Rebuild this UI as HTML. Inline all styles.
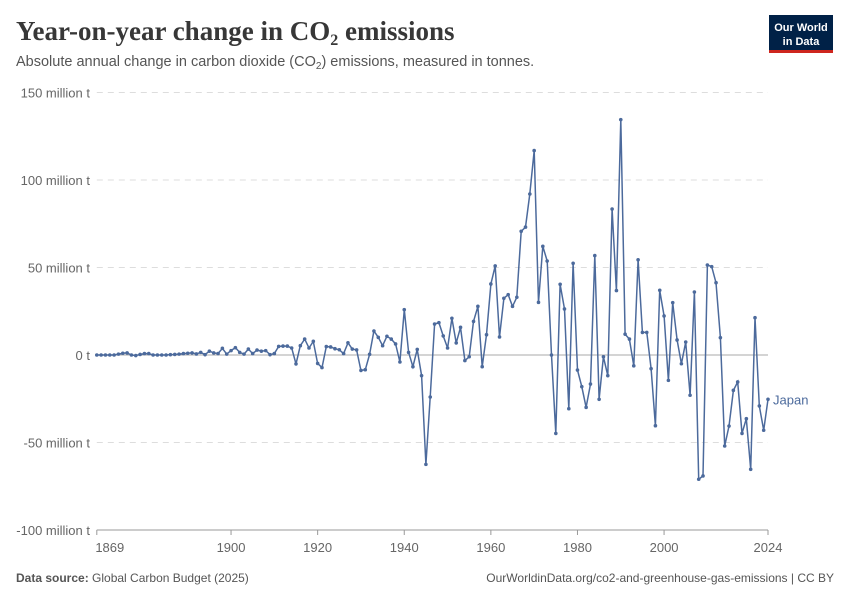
<!DOCTYPE html>
<html><head><meta charset="utf-8"><style>
body{margin:0;background:#fff;width:850px;height:600px;overflow:hidden;font-family:"Liberation Sans",sans-serif;}
</style></head><body>
<svg width="850" height="600" xmlns="http://www.w3.org/2000/svg">
<text x="16" y="40" font-family="Liberation Serif" font-weight="bold" font-size="27" fill="#373737">Year-on-year change in CO<tspan font-size="16" dy="5">2</tspan><tspan dy="-5"> emissions</tspan></text>
<text x="16" y="66" font-size="14.5" fill="#555">Absolute annual change in carbon dioxide (CO<tspan font-size="10" dy="3">2</tspan><tspan dy="-3">) emissions, measured in tonnes.</tspan></text>
<g>
<rect x="769" y="15" width="64" height="37" fill="#002147"/>
<rect x="769" y="50" width="64" height="3" fill="#ce261e"/>
<text x="801" y="31" font-size="11" font-weight="bold" fill="#fff" text-anchor="middle">Our World</text>
<text x="801" y="45" font-size="11" font-weight="bold" fill="#fff" text-anchor="middle">in Data</text>
</g>
<g id="grid"></g><g id="xaxis"></g><g id="series"></g>
<text x="16" y="582" font-size="12" fill="#555"><tspan font-weight="bold">Data source:</tspan> Global Carbon Budget (2025)</text>
<text x="834" y="582" font-size="12" fill="#555" text-anchor="end">OurWorldinData.org/co2-and-greenhouse-gas-emissions | CC BY</text>
</svg>
<script>
const startYear=1869;
const values=[0,0,0,0,0,0.5,1,1.2,0,-0.3,0.3,0.8,
0.8,0,0,0,0,0.2,0.3,0.5,0.8,1,
1.2,0.6,1.5,0.2,2.2,1.2,0.8,3.8,0.5,2.5,
4.2,1.5,0.5,3.4,0.8,2.8,2.2,2.5,0.2,0.8,
4.9,5.1,5.1,4,-5.1,5.3,9.1,4,7.8,-4.8,
-7.2,4.8,4.6,3.6,3,0.8,7,3.4,2.9,-8.8,
-8.4,0.4,13.7,10.1,5.3,10.7,9.1,6.3,-4,25.9,
1.5,-6.7,3.2,-11.8,-62.5,-24,17.7,18.5,10.9,4,
21,6.9,15.8,-3.2,-1,19.2,27.8,-6.7,11.6,40.6,
50.9,10.3,32.4,34.5,27.8,33,70.7,73.1,92,116.8,
30.1,62.1,53.7,0,-44.8,40.4,26.3,-30.7,52.4,-8.6,
-18.1,-29.9,-16.6,56.8,-25.3,-1,-11.8,83.4,36.8,134.5,
11.9,9.1,-6.2,54.4,12.9,12.9,-7.8,-40.4,37,22.3,
-14.5,29.9,8.6,-5,7.4,-23,36,-71,-69.1,51.4,
50.5,41.3,9.9,-52,-40.6,-20.2,-15.4,-44.8,-36.4,-65.3,
21.3,-29.1,-43,-25.3];
const yTicks=[150,100,50,0,-50,-100];
const xTicks=[1869,1900,1920,1940,1960,1980,2000,2024];
const NS="http://www.w3.org/2000/svg";
const X0=96.8,X1=768,Y0=355,K=1.75;
const endYear=startYear+values.length-1;
function xs(yr){return X0+(yr-startYear)*(X1-X0)/(2024-startYear);}
function ys(v){return Y0-v*K;}
function mk(tag,attrs,parent){const e=document.createElementNS(NS,tag);for(const k in attrs)e.setAttribute(k,attrs[k]);parent.appendChild(e);return e;}
const grid=document.getElementById('grid');
yTicks.forEach(t=>{
 const l=mk('line',{x1:X0,x2:X1,y1:ys(t),y2:ys(t),stroke:t===0?'#aaa':'#ddd','stroke-width':1,'stroke-dasharray':t===0?'':'6,5'},grid);
 
 
 const tx=mk('text',{x:90,y:ys(t)+5,'text-anchor':'end','font-size':13,fill:'#666'},grid);
 
 
 tx.textContent=t===0?'0 t':t+' million t';
});
const xa=document.getElementById('xaxis');
const ax=mk('line',{x1:X0,x2:X1,y1:ys(-100),y2:ys(-100),stroke:'#999'},xa);


xTicks.forEach(t=>{
 const tk=mk('line',{x1:xs(t),x2:xs(t),y1:ys(-100),y2:ys(-100)+5,stroke:'#999'},xa);
 
 
 const tx=mk('text',{x:xs(t)+(t===startYear?13:0),y:552,'text-anchor':'middle','font-size':13,fill:'#666'},xa);
 
 
 tx.textContent=t;
});
const sg=document.getElementById('series');
const pts=values.map((v,i)=>xs(startYear+i).toFixed(1)+','+ys(v).toFixed(1)).join(' ');
const pl=mk('polyline',{points:pts,fill:'none',stroke:'#4c6a9c','stroke-width':1.5},sg);


values.forEach((v,i)=>{
 const c=mk('circle',{cx:xs(startYear+i),cy:ys(v),r:1.8,fill:'#4c6a9c'},sg);
 
 
});
const lab=mk('text',{x:xs(endYear)+5,y:ys(values[values.length-1])+5,'font-size':13,fill:'#4c6a9c'},sg);


lab.textContent='Japan';
</script>
</body></html>
